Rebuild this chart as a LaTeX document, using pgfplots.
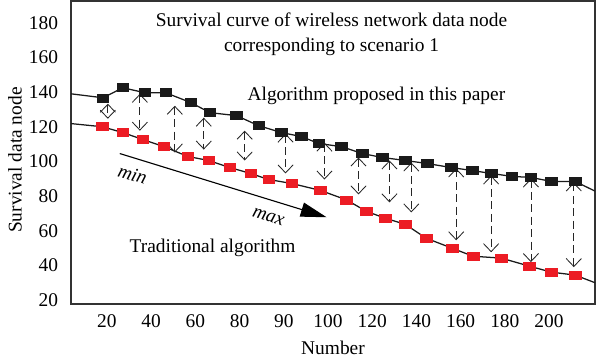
\documentclass[border=0pt]{standalone}
\usepackage{fontspec}
\setmainfont{Liberation Serif}
\usepackage{pgfplots}
\pgfplotsset{compat=1.18}
\usetikzlibrary{arrows.meta}
\definecolor{mred}{HTML}{EC1C24}
\definecolor{mblack}{HTML}{1A1A1A}
\definecolor{axgray}{HTML}{333333}

\pgfplotstableread{
x y
0.91 136.8
1.36 142.6
1.86 139.7
2.33 139.7
2.90 134.0
3.33 128.2
3.93 126.5
4.43 120.7
4.95 116.7
5.40 114.4
5.79 110.4
6.30 108.6
6.78 104.6
7.23 102.3
7.75 100.6
8.25 98.8
8.79 96.5
9.26 94.8
9.69 93.1
10.16 91.4
10.59 90.8
11.05 88.5
11.59 88.5
}\proposed

\pgfplotstableread{
x y
0.89 120.1
1.36 116.7
1.81 112.7
2.29 108.6
2.83 102.9
3.30 100.6
3.78 96.5
4.25 93.1
4.66 89.6
5.18 87.3
5.83 83.3
6.42 77.8
6.87 71.2
7.30 67.2
7.75 63.7
8.22 55.7
8.81 49.9
9.28 45.3
9.92 44.2
10.55 39.6
11.05 36.1
11.59 34.4
}\traditional

\tikzset{dbl/.style={dash pattern=on 2mm off 1.1mm, line width=0.6pt, black!85,
  {Straight Barb[length=2mm,width=3.8mm,line width=0.6pt]}-{Straight Barb[length=2mm,width=3.8mm,line width=0.6pt]}}}
\newcommand{\fs}{\fontsize{13.8}{16}\selectfont}

\begin{document}
\begin{tikzpicture}[font=\fs]
\begin{axis}[
  scale only axis,
  width=13.1cm, height=7.575cm,
  xmin=0.187, xmax=12.04,
  ymin=17.7, ymax=192.7,
  xtick={1,2,3,4,5,6,7,8,9,10,11},
  xticklabels={20,40,60,80,90,100,120,140,160,180,200},
  ytick={20,40,60,80,100,120,140,160,180},
  major tick length=0pt,
  axis line style={line width=0.9pt, axgray},
  /pgf/number format/assume math mode=true,
  tick label style={font=\fs},
  yticklabel style={xshift=-2mm},
  xticklabel style={yshift=-1.3mm},
  xlabel={Number},
  ylabel={Survival data node},
  label style={font=\fs},
  xlabel style={at={(axis description cs:0.5,-0.145)}, anchor=center},
  ylabel style={at={(axis description cs:-0.107,0.475)}, anchor=center},
  clip=true,
]
% lines
\addplot[mblack, line width=0.9pt] coordinates {
(0.187,139.1) (0.91,136.8) (1.36,142.6) (1.86,139.7) (2.33,139.7) (2.90,134.0) (3.33,128.2)
(3.93,126.5) (4.43,120.7) (4.95,116.7) (5.40,114.4) (5.79,110.4) (6.30,108.6) (6.78,104.6)
(7.23,102.3) (7.75,100.6) (8.25,98.8) (8.79,96.5) (9.26,94.8) (9.69,93.1) (10.16,91.4)
(10.59,90.8) (11.05,88.5) (11.59,88.5) (12.04,82.9)};
\addplot[mblack, line width=0.9pt] coordinates {
(0.187,121.9) (0.89,120.1) (1.36,116.7) (1.81,112.7) (2.29,108.6) (2.83,102.9) (3.30,100.6)
(3.78,96.5) (4.25,93.1) (4.66,89.6) (5.18,87.3) (5.83,83.3) (6.42,77.8) (6.87,71.2)
(7.30,67.2) (7.75,63.7) (8.22,55.7) (8.81,49.9) (9.28,45.3) (9.92,44.2) (10.55,39.6)
(11.05,36.1) (11.59,34.4) (12.04,30.0)};
% markers
\addplot[only marks, mark=square*, mark size=1mm, mark options={xscale=1.45, fill=mblack, draw=mblack}] table {\proposed};
\addplot[only marks, mark=square*, mark size=1mm, mark options={xscale=1.45, fill=mred, draw=mred}] table {\traditional};
% double arrows
\draw[dbl] (axis cs:1.02,133.4) -- (axis cs:1.02,124.7);
\draw[dbl] (axis cs:1.745,139.1) -- (axis cs:1.745,117.8);
\draw[dbl] (axis cs:2.535,132.2) -- (axis cs:2.535,105.2);
\draw[dbl] (axis cs:3.19,125.3) -- (axis cs:3.19,106.9);
\draw[dbl] (axis cs:4.115,117.8) -- (axis cs:4.115,100.6);
\draw[dbl] (axis cs:5.04,116.1) -- (axis cs:5.04,93.1);
\draw[dbl] (axis cs:5.92,110.9) -- (axis cs:5.92,89.6);
\draw[dbl] (axis cs:6.69,102.3) -- (axis cs:6.69,81.0);
\draw[dbl] (axis cs:7.39,100.6) -- (axis cs:7.39,76.4);
\draw[dbl] (axis cs:7.885,99.4) -- (axis cs:7.885,70.6);
\draw[dbl] (axis cs:8.90,96.0) -- (axis cs:8.90,54.5);
\draw[dbl] (axis cs:9.69,91.9) -- (axis cs:9.69,47.6);
\draw[dbl] (axis cs:10.59,90.2) -- (axis cs:10.59,41.9);
\draw[dbl] (axis cs:11.56,87.9) -- (axis cs:11.56,39.0);
% min-max arrow
\draw[line width=0.8pt, -{Triangle[length=6.5mm,width=3.6mm]}] (axis cs:1.29,104.6) -- (axis cs:5.97,67.8);
\node[rotate=-17, inner sep=1pt, font=\itshape\fs] at (axis cs:1.58,92.6) {min};
\node[rotate=-17, inner sep=1pt, font=\itshape\fs] at (axis cs:4.65,67.9) {max};
% texts
\node[align=center, font=\fontsize{13.8}{17.8}\selectfont] at (axis cs:6.08,173.7)
  {Survival curve of wireless network data node\\corresponding to scenario 1};
\node at (axis cs:7.095,138.0) {Algorithm proposed in this paper};
\node at (axis cs:3.39,49.9) {Traditional algorithm};
% bounding box
\coordinate (bbl) at (rel axis cs:-0.1355,-0.1848);
\coordinate (btr) at (rel axis cs:1.0095,1.0033);
\end{axis}
\pgfresetboundingbox
\path[use as bounding box] (bbl) rectangle (btr);
\end{tikzpicture}
\end{document}
